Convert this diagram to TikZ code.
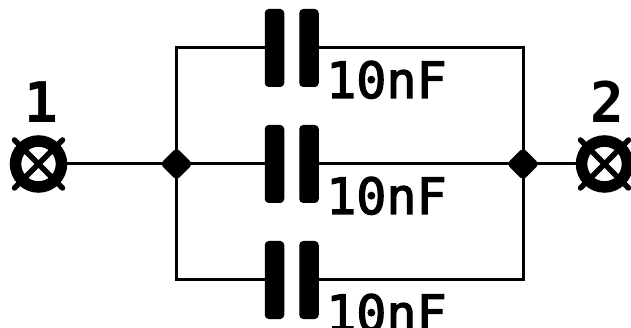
\documentclass[tikz,border=0pt]{standalone}
\usepackage{fontspec}
\newfontfamily\labelfont[FakeBold=2.5]{DejaVu Sans Mono}
\newfontfamily\pinfont{DejaVu Sans Mono Bold}
\usetikzlibrary{shapes.geometric,calc}
\tikzset{
  wire/.style={line width=3pt,black},
  plate/.style={draw=none,fill=black,rectangle,rounded corners=4pt,minimum width=19.5pt,minimum height=78pt,inner sep=0pt},
  junction/.style={draw=none,fill=black,diamond,rounded corners=4pt,minimum width=33pt,minimum height=33pt,inner sep=0pt,aspect=1},
  terminal/.style={draw=black,circle,line width=11.5pt,minimum size=46pt,inner sep=0pt},
  crossbar/.style={line width=5.5pt,black,line cap=round},
  valuelabel/.style={font=\labelfont\fontsize{50}{50}\selectfont,anchor=base west,inner sep=0pt},
  pinlabel/.style={font=\pinfont\fontsize{56}{56}\selectfont,anchor=base,inner sep=0pt}
}
\begin{document}
\begin{tikzpicture}[x=1pt,y=-1pt]
\clip (0,0) rectangle (631,328);
\useasboundingbox (0,0) rectangle (631,328);
\fill[white] (0,0) rectangle (631,328);
% terminals
\node[terminal] (t1) at (38.5,164) {};
\node[terminal] (t2) at (604.5,164) {};
\draw[crossbar] ($(t1)+(-24,-24)$) -- ($(t1)+(24,24)$);
\draw[crossbar] ($(t1)+(-24,24)$) -- ($(t1)+(24,-24)$);
\draw[crossbar] ($(t2)+(-24,-24)$) -- ($(t2)+(24,24)$);
\draw[crossbar] ($(t2)+(-24,24)$) -- ($(t2)+(24,-24)$);
% junctions
\node[junction] (j1) at (176.5,164) {};
\node[junction] (j2) at (523,164) {};
% capacitors
\node[plate] (a1) at (274.5,48) {};
\node[plate] (a2) at (309,48) {};
\node[plate] (b1) at (274.5,164) {};
\node[plate] (b2) at (309,164) {};
\node[plate] (c1) at (274.5,280) {};
\node[plate] (c2) at (309,280) {};
% wires
\draw[wire] (t1) -- (j1.center);
\draw[wire] (j2.center) -- (t2);
\draw[wire] (j1.center) -- (b1);
\draw[wire] (b2) -- (j2.center);
\draw[wire] (j1.center) |- (a1);
\draw[wire] (j1.center) |- (c1);
\draw[wire] (j2.center) |- (a2);
\draw[wire] (j2.center) |- (c2);
% labels
\node[valuelabel] (la) at (326,98) {10nF};
\node[valuelabel] (lb) at (326,214) {10nF};
\node[valuelabel] (lc) at (326,331) {10nF};
\node[pinlabel] (p1) at (41,123) {1};
\node[pinlabel] (p2) at (607,123) {2};
\end{tikzpicture}
\end{document}
